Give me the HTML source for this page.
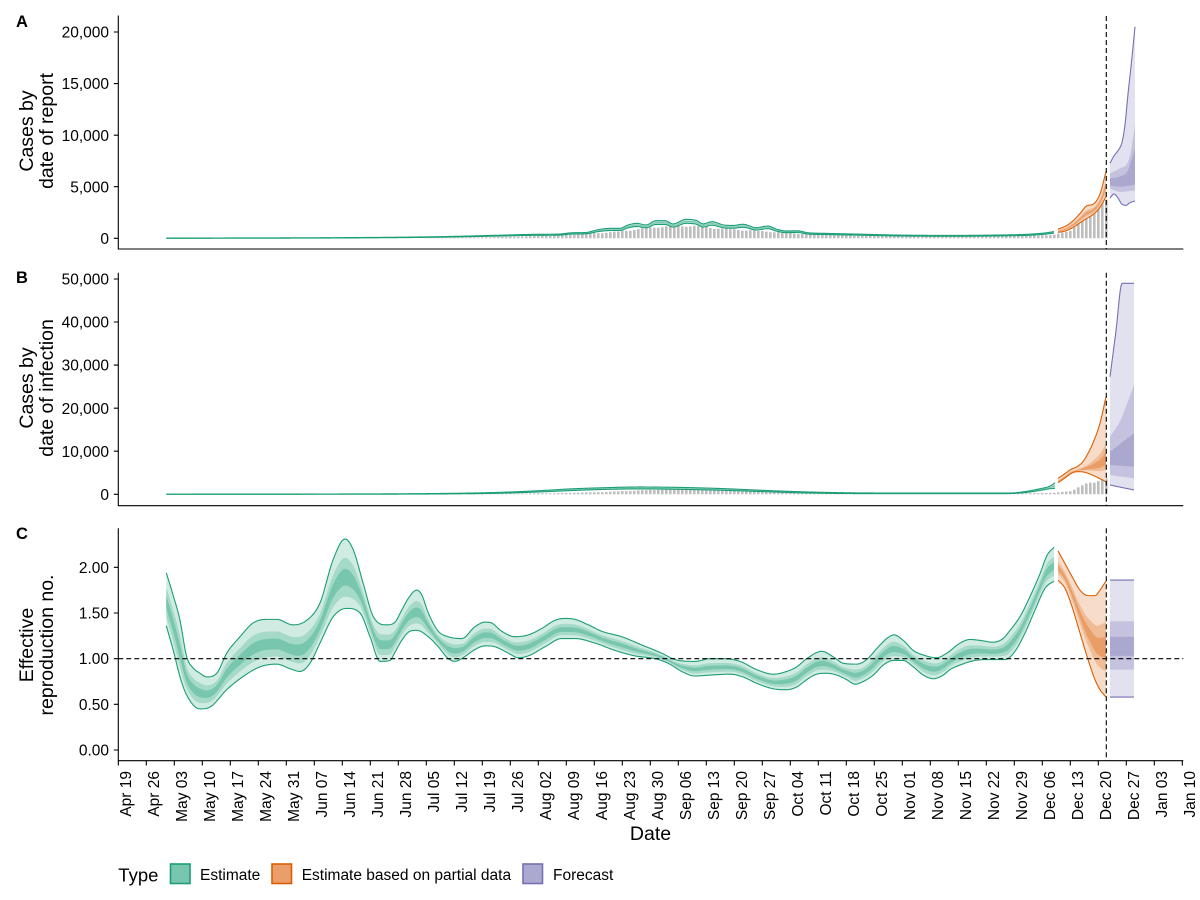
<!DOCTYPE html>
<html><head><meta charset="utf-8"><style>
html,body{margin:0;padding:0;background:#fff;}
svg{display:block;}
text{font-family:"Liberation Sans",Arial,sans-serif;fill:#000;}
.tk{font-size:15.5px;}
.tt{font-size:19.5px;}
</style></head><body>
<svg xmlns="http://www.w3.org/2000/svg" width="1200" height="900" viewBox="0 0 1200 900">
<rect width="1200" height="900" fill="#fff"/>
<g id="data"></g>

<!-- dashed reference lines -->
<g stroke="#000" stroke-width="1.1" stroke-dasharray="5,3" fill="none">
<line x1="1106.3" y1="16" x2="1106.3" y2="249"/>
<line x1="1106.3" y1="272.7" x2="1106.3" y2="505.7"/>
<line x1="1106.3" y1="528.3" x2="1106.3" y2="760.7"/>
<line x1="118.3" y1="658.65" x2="1183.3" y2="658.65"/>
</g>

<!-- axes -->
<g stroke="#000" stroke-width="1.1" fill="none">
<path d="M118.3 15.5V249H1183.3"/>
<path d="M118.3 272.7V505.7H1183.3"/>
<path d="M118.3 528.3V760.7H1183.3"/>
<path d="M113.8 238.3H118.3M113.8 186.7H118.3M113.8 135.2H118.3M113.8 83.6H118.3M113.8 32H118.3"/>
<path d="M113.8 494.3H118.3M113.8 451.2H118.3M113.8 408.2H118.3M113.8 365.1H118.3M113.8 322H118.3M113.8 279H118.3"/>
<path d="M113.8 750H118.3M113.8 704.3H118.3M113.8 658.65H118.3M113.8 613H118.3M113.8 567.3H118.3"/>
<path d="M118.3 760.7V765.5M146.3 760.7V765.5M174.3 760.7V765.5M202.3 760.7V765.5M230.3 760.7V765.5M258.3 760.7V765.5M286.3 760.7V765.5M314.3 760.7V765.5M342.3 760.7V765.5M370.3 760.7V765.5M398.3 760.7V765.5M426.3 760.7V765.5M454.3 760.7V765.5M482.3 760.7V765.5M510.3 760.7V765.5M538.3 760.7V765.5M566.3 760.7V765.5M594.3 760.7V765.5M622.3 760.7V765.5M650.3 760.7V765.5M678.3 760.7V765.5M706.3 760.7V765.5M734.3 760.7V765.5M762.3 760.7V765.5M790.3 760.7V765.5M818.3 760.7V765.5M846.3 760.7V765.5M874.3 760.7V765.5M902.3 760.7V765.5M930.3 760.7V765.5M958.3 760.7V765.5M986.3 760.7V765.5M1014.3 760.7V765.5M1042.3 760.7V765.5M1070.3 760.7V765.5M1098.3 760.7V765.5M1126.3 760.7V765.5M1154.3 760.7V765.5M1182.3 760.7V765.5"/>
</g>

<!-- panel tags -->
<text x="16" y="27" font-size="16.5" font-weight="bold">A</text>
<text x="16" y="283" font-size="16.5" font-weight="bold">B</text>
<text x="16" y="539" font-size="16.5" font-weight="bold">C</text>

<!-- y tick labels -->
<g class="tk" text-anchor="end">
<text x="109" y="243.9">0</text>
<text x="109" y="192.3">5,000</text>
<text x="109" y="140.8">10,000</text>
<text x="109" y="89.2">15,000</text>
<text x="109" y="37.6">20,000</text>
<text x="109" y="499.9">0</text>
<text x="109" y="456.8">10,000</text>
<text x="109" y="413.8">20,000</text>
<text x="109" y="370.7">30,000</text>
<text x="109" y="327.6">40,000</text>
<text x="109" y="284.6">50,000</text>
<text x="109" y="755.6">0.00</text>
<text x="109" y="709.9">0.50</text>
<text x="109" y="664.2">1.00</text>
<text x="109" y="618.6">1.50</text>
<text x="109" y="572.9">2.00</text>
</g>

<!-- y axis titles -->
<g class="tt" text-anchor="middle">
<text transform="translate(33,131) rotate(-90)">Cases by</text>
<text transform="translate(53,131) rotate(-90)">date of report</text>
<text transform="translate(33,388) rotate(-90)">Cases by</text>
<text transform="translate(53,388) rotate(-90)">date of infection</text>
<text transform="translate(33,645) rotate(-90)">Effective</text>
<text transform="translate(53,645) rotate(-90)">reproduction no.</text>
</g>

<!-- x tick labels -->
<g class="tk" text-anchor="end">
<text transform="translate(130.8,771) rotate(-90)">Apr 19</text>
<text transform="translate(158.8,771) rotate(-90)">Apr 26</text>
<text transform="translate(186.8,771) rotate(-90)">May 03</text>
<text transform="translate(214.8,771) rotate(-90)">May 10</text>
<text transform="translate(242.8,771) rotate(-90)">May 17</text>
<text transform="translate(270.8,771) rotate(-90)">May 24</text>
<text transform="translate(298.8,771) rotate(-90)">May 31</text>
<text transform="translate(326.8,771) rotate(-90)">Jun 07</text>
<text transform="translate(354.8,771) rotate(-90)">Jun 14</text>
<text transform="translate(382.8,771) rotate(-90)">Jun 21</text>
<text transform="translate(410.8,771) rotate(-90)">Jun 28</text>
<text transform="translate(438.8,771) rotate(-90)">Jul 05</text>
<text transform="translate(466.8,771) rotate(-90)">Jul 12</text>
<text transform="translate(494.8,771) rotate(-90)">Jul 19</text>
<text transform="translate(522.8,771) rotate(-90)">Jul 26</text>
<text transform="translate(550.8,771) rotate(-90)">Aug 02</text>
<text transform="translate(578.8,771) rotate(-90)">Aug 09</text>
<text transform="translate(606.8,771) rotate(-90)">Aug 16</text>
<text transform="translate(634.8,771) rotate(-90)">Aug 23</text>
<text transform="translate(662.8,771) rotate(-90)">Aug 30</text>
<text transform="translate(690.8,771) rotate(-90)">Sep 06</text>
<text transform="translate(718.8,771) rotate(-90)">Sep 13</text>
<text transform="translate(746.8,771) rotate(-90)">Sep 20</text>
<text transform="translate(774.8,771) rotate(-90)">Sep 27</text>
<text transform="translate(802.8,771) rotate(-90)">Oct 04</text>
<text transform="translate(830.8,771) rotate(-90)">Oct 11</text>
<text transform="translate(858.8,771) rotate(-90)">Oct 18</text>
<text transform="translate(886.8,771) rotate(-90)">Oct 25</text>
<text transform="translate(914.8,771) rotate(-90)">Nov 01</text>
<text transform="translate(942.8,771) rotate(-90)">Nov 08</text>
<text transform="translate(970.8,771) rotate(-90)">Nov 15</text>
<text transform="translate(998.8,771) rotate(-90)">Nov 22</text>
<text transform="translate(1026.8,771) rotate(-90)">Nov 29</text>
<text transform="translate(1054.8,771) rotate(-90)">Dec 06</text>
<text transform="translate(1082.8,771) rotate(-90)">Dec 13</text>
<text transform="translate(1110.8,771) rotate(-90)">Dec 20</text>
<text transform="translate(1138.8,771) rotate(-90)">Dec 27</text>
<text transform="translate(1166.8,771) rotate(-90)">Jan 03</text>
<text transform="translate(1194.8,771) rotate(-90)">Jan 10</text>
</g>

<text class="tt" x="650.5" y="840" text-anchor="middle">Date</text>

<!-- legend -->
<text x="118.3" y="881.5" font-size="18.5">Type</text>
<rect x="170.5" y="864" width="19.5" height="19.5" fill="#78c6ae" stroke="#1b9e77" stroke-width="1.6"/>
<text class="tk" x="200" y="880">Estimate</text>
<rect x="272" y="864" width="19.5" height="19.5" fill="#eb9e69" stroke="#d95f02" stroke-width="1.6"/>
<text class="tk" x="301.7" y="880">Estimate based on partial data</text>
<rect x="523" y="864" width="19.5" height="19.5" fill="#aca9d1" stroke="#7570b3" stroke-width="1.6"/>
<text class="tk" x="553" y="880">Forecast</text>
</svg>

<script>
(function(){
var NS='http://www.w3.org/2000/svg';
var g=document.getElementById('data');
function el(t,a){var e=document.createElementNS(NS,t);for(var k in a)e.setAttribute(k,a[k]);g.appendChild(e);return e;}
function mono(P){
  var n=P.length,xs=P.map(function(p){return p[0];}),ys=P.map(function(p){return p[1];});
  if(n===1)return function(){return ys[0];};
  var d=[],m=new Array(n),i;
  for(i=0;i<n-1;i++)d.push((ys[i+1]-ys[i])/(xs[i+1]-xs[i]));
  m[0]=d[0];m[n-1]=d[n-2];
  for(i=1;i<n-1;i++)m[i]=(d[i-1]*d[i]<=0)?0:(d[i-1]+d[i])/2;
  for(i=0;i<n-1;i++){
    if(d[i]===0){m[i]=0;m[i+1]=0;continue;}
    var a=m[i]/d[i],b=m[i+1]/d[i],s=a*a+b*b;
    if(s>9){var t=3/Math.sqrt(s);m[i]=t*a*d[i];m[i+1]=t*b*d[i];}
  }
  return function(x){
    if(x<=xs[0])return ys[0];
    if(x>=xs[n-1])return ys[n-1];
    var j=0;while(x>xs[j+1])j++;
    var h=xs[j+1]-xs[j],t=(x-xs[j])/h,t2=t*t,t3=t2*t;
    return (2*t3-3*t2+1)*ys[j]+(t3-2*t2+t)*h*m[j]+(-2*t3+3*t2)*ys[j+1]+(t3-t2)*h*m[j+1];
  };
}
function xsr(x0,x1){var r=[];for(var x=x0;x<x1;x+=1)r.push(x);r.push(x1);return r;}
function area(x0,x1,lo,hi,Y,fill){
  var X=xsr(x0,x1);
  var top=X.map(function(x){return x.toFixed(1)+','+Y(hi(x)).toFixed(2);});
  var bot=X.slice().reverse().map(function(x){return x.toFixed(1)+','+Y(lo(x)).toFixed(2);});
  el('polygon',{points:top.concat(bot).join(' '),fill:fill});
}
function line(x0,x1,f,Y,c){
  var X=xsr(x0,x1);
  el('polyline',{points:X.map(function(x){return x.toFixed(1)+','+Y(f(x)).toFixed(2);}).join(' '),fill:'none',stroke:c,'stroke-width':1.1,'stroke-linejoin':'round'});
}
function rib(x0,x1,loP,hiP,Y,C,fr){
  var lo=mono(loP),hi=mono(hiP);
  var F=function(a){return function(x){return lo(x)+a*(hi(x)-lo(x));};};
  area(x0,x1,lo,hi,Y,C[0]);
  area(x0,x1,F(fr[0]),F(fr[1]),Y,C[1]);
  area(x0,x1,F(fr[2]),F(fr[3]),Y,C[2]);
  line(x0,x1,hi,Y,C[3]);line(x0,x1,lo,Y,C[3]);
}
function rib3(x0,x1,B,Y,C){
  var f=B.map(function(p){return mono(p);});
  area(x0,x1,f[0],f[1],Y,C[0]);
  area(x0,x1,f[2],f[3],Y,C[1]);
  area(x0,x1,f[4],f[5],Y,C[2]);
  line(x0,x1,f[1],Y,C[3]);line(x0,x1,f[0],Y,C[3]);
}
var GR=['#d0ebe2','#a5d9c8','#79c6ae','#1b9e77'];
var OR=['#f7dcc9','#f0bc96','#e99d67','#d95f02'];
var PU=['#e2e1ef','#c4c2df','#aba8d0','#7570b3'];
var YA=function(v){return 238.3-v*0.010315;};
var YB=function(v){return 494.3-v*0.004306;};
var YC=function(r){return 750-r*91.35;};

/* bars (reported cases) */
var bt=mono([[166,0],[300,3],[400,15],[450,50],[500,120],[540,230],[555,250],[580,400],[610,580],[638,870],[663,1120],[690,1190],[715,970],[742,810],[768,650],[795,480],[825,320],[860,260],[900,220],[950,200],[1000,220],[1040,280],[1056,400],[1065,600],[1072,800],[1078,1700],[1085,2400],[1092,2600],[1098,2900],[1103,4000],[1106.3,4030]]);
var wk=[1.04,0.98,0.93,0.96,1.02,1.06,1.01];
function bars(Y){
  for(var d=12;d<=247;d++){
    var x=118.3+4*d,v=Math.max(0,bt(x)*wk[d%7]);
    var y0=Y(0),y1=Y(v);
    if(y0-y1<0.3)continue;
    el('rect',{x:(x-1.3).toFixed(1),y:y1.toFixed(2),width:2.6,height:(y0-y1).toFixed(2),fill:'#bebebe'});
  }
}

/* ---------- Panel A ---------- */
bars(YA);
var aHi=[[166,25],[250,35],[350,70],[420,130],[460,200],[500,300],[540,390],[557,400],[573,540],[585,560],[600,870],[612,970],[620,970],[628,1290],[637,1450],[646,1290],[656,1710],[665,1710],[673,1390],[686,1840],[697,1710],[703,1390],[712,1610],[724,1290],[733,1250],[743,1360],[756,1030],[768,1190],[777,870],[787,710],[797,730],[808,540],[825,480],[860,400],[900,310],[950,280],[1000,320],[1030,400],[1045,520],[1054,650]];
var aLo=aHi.map(function(p){return [p[0],Math.max(0,p[1]*0.8-20)];});
rib(166.3,1054,aLo,aHi,YA,GR,[0.2,0.75,0.35,0.6]);
rib(1058,1106,
  [[1058,580],[1065,700],[1072,1000],[1080,1500],[1087,1940],[1093,2300],[1100,3000],[1106,4030]],
  [[1058,900],[1065,1150],[1072,1600],[1080,2400],[1087,3160],[1093,3300],[1100,4300],[1106,6460]],
  YA,OR,[0.15,0.65,0.3,0.5]);
rib3(1110,1135,[
  [[1110,3900],[1114,4300],[1118,3900],[1122,3300],[1126,3200],[1130,3450],[1135,3620]],
  [[1110,7270],[1114,8000],[1118,8500],[1122,9300],[1125,11000],[1128,14000],[1131,16640],[1135,20500]],
  [[1110,4850],[1120,4500],[1135,4650]],
  [[1110,6300],[1120,6790],[1128,7400],[1131,8500],[1135,11000]],
  [[1110,5100],[1120,5000],[1135,5200]],
  [[1110,5800],[1120,6000],[1128,6600],[1131,7500],[1135,8700]]
],YA,PU);

/* ---------- Panel B ---------- */
bars(YB);
var bG=[[166,0,40],[300,8,60],[400,40,120],[450,100,220],[500,250,450],[540,550,850],[570,850,1250],[600,1100,1500],[640,1250,1700],[680,1150,1600],[720,950,1350],[760,650,950],[800,350,600],[840,200,380],[880,170,300],[920,160,290],[960,160,280],[1000,170,290],[1012,200,320],[1027,450,700],[1040,900,1300],[1050,1300,1900],[1055,1400,2700]];
rib(166.3,1055,bG.map(function(p){return [p[0],p[1]];}),bG.map(function(p){return [p[0],p[2]];}),YB,GR,[0.2,0.7,0.35,0.55]);
rib(1058,1106,
  [[1058,2700],[1065,3800],[1071,4800],[1077,5250],[1083,5200],[1088,4880],[1094,4300],[1100,3600],[1106,2930]],
  [[1058,3700],[1065,4800],[1071,5800],[1077,6400],[1083,7600],[1088,9500],[1094,12500],[1100,16500],[1106,22660]],
  YB,OR,[0.14,0.45,0.2,0.35]);
rib3(1110,1134,[
  [[1110,2160],[1134,1000]],
  [[1110,27300],[1116,38000],[1122,49000],[1134,49000]],
  [[1110,4480],[1134,3700]],
  [[1110,13400],[1120,17000],[1134,25400]],
  [[1110,6800],[1134,6400]],
  [[1110,9900],[1134,14170]]
],YB,PU);

/* ---------- Panel C ---------- */
var cHi=[[166,1.95],[173,1.70],[180,1.42],[186.7,1.02],[193,0.90],[200,0.84],[206.7,0.80],[216.7,0.84],[226.7,1.06],[240,1.24],[253,1.39],[266.7,1.43],[276.7,1.43],[293,1.37],[306.7,1.42],[320,1.61],[333,2.08],[345,2.31],[353.3,2.19],[363.3,1.82],[373.3,1.46],[386.7,1.37],[395,1.40],[401.7,1.53],[408.3,1.66],[416.7,1.75],[421.7,1.70],[428.3,1.50],[438.3,1.30],[448.3,1.24],[461.7,1.22],[475,1.35],[485,1.40],[491.7,1.39],[501.7,1.30],[515,1.24],[528.3,1.26],[541.7,1.33],[555,1.42],[565,1.44],[575,1.43],[588.3,1.37],[601.7,1.30],[621.7,1.24],[641.7,1.15],[661.7,1.06],[675,0.99],[695,0.97],[710,1.00],[723.3,1.00],[740,0.97],[756.7,0.88],[773.3,0.83],[786.7,0.86],[796.7,0.91],[806.7,1.00],[821.7,1.08],[833.3,1.02],[843.3,0.95],[856.7,0.94],[866.7,0.99],[876.7,1.11],[886.7,1.22],[894,1.26],[903.3,1.20],[913.3,1.09],[923.3,1.04],[936.7,1.01],[946.7,1.06],[960,1.17],[970,1.21],[980,1.20],[993,1.18],[1003,1.22],[1010,1.31],[1020,1.46],[1030,1.68],[1040,1.93],[1047,2.13],[1054,2.22]];
var cLo=[[166,1.37],[173.3,1.09],[180,0.80],[186.7,0.60],[200,0.45],[210,0.47],[226.7,0.66],[240,0.78],[260,0.91],[276.7,0.94],[290,0.89],[300,0.86],[310,0.95],[320,1.17],[333.3,1.46],[346.7,1.55],[360,1.50],[370,1.24],[380,0.97],[390,0.98],[395,1.07],[401.7,1.20],[410,1.30],[416.7,1.31],[428.3,1.24],[438.3,1.13],[448.3,1.00],[455,0.97],[461.7,1.00],[475,1.10],[485,1.14],[495,1.13],[508.3,1.06],[518.3,1.01],[528.3,1.03],[545,1.13],[561.7,1.22],[575,1.22],[595,1.17],[615,1.09],[635,1.03],[655,1.00],[668,0.95],[681.7,0.86],[695,0.81],[710,0.82],[730,0.83],[743,0.80],[756.7,0.73],[773.3,0.67],[786.7,0.66],[796.7,0.69],[806.7,0.77],[816.7,0.83],[826.7,0.84],[836.7,0.82],[846.7,0.77],[855,0.72],[863.3,0.75],[873.3,0.82],[883.3,0.93],[893.3,0.98],[903.3,0.98],[913.3,0.91],[923.3,0.82],[933.3,0.78],[943.3,0.82],[950,0.88],[960,0.93],[975,0.98],[990,0.99],[1005,0.99],[1015,1.08],[1025,1.28],[1035,1.53],[1045,1.77],[1054,1.85]];
rib(166.3,1054,cLo,cHi,YC,GR,[0.17,0.73,0.33,0.57]);
rib(1058,1106,
  [[1058,1.86],[1065,1.77],[1072,1.57],[1080,1.28],[1088,0.99],[1095,0.77],[1100,0.66],[1106,0.58]],
  [[1058,2.18],[1065,2.04],[1072,1.90],[1080,1.75],[1088,1.69],[1095,1.69],[1100,1.75],[1106,1.85]],
  YC,OR,[0.22,0.65,0.34,0.52]);
rib3(1110,1134,[
  [[1110,0.58],[1134,0.58]],
  [[1110,1.86],[1134,1.86]],
  [[1110,0.88],[1134,0.88]],
  [[1110,1.41],[1134,1.41]],
  [[1110,1.03],[1134,1.03]],
  [[1110,1.24],[1134,1.24]]
],YC,PU);
})();
</script>
</body></html>
